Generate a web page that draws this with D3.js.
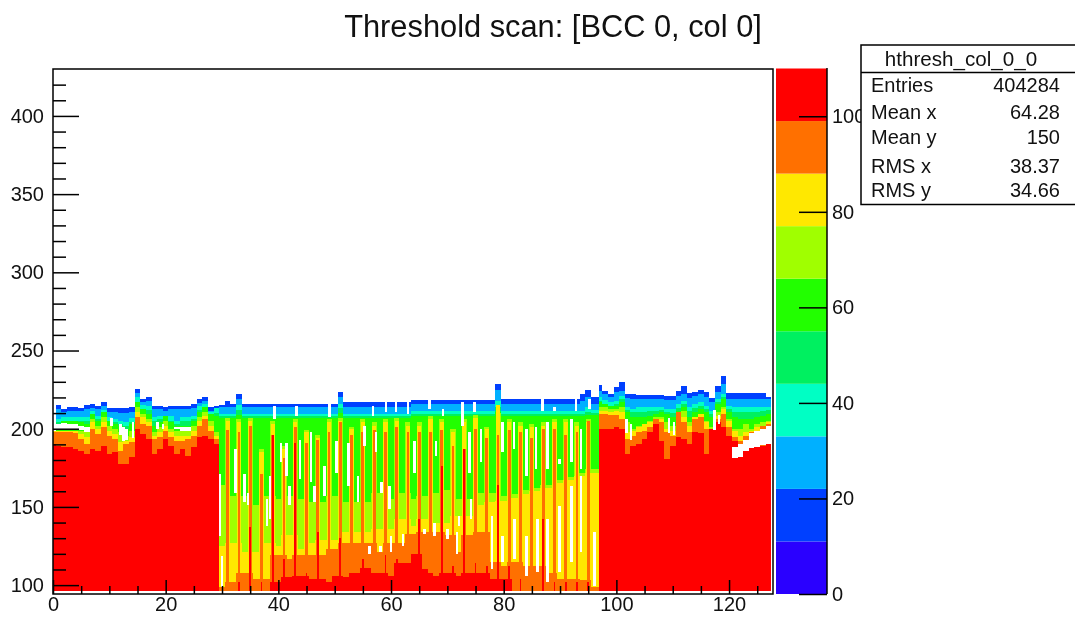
<!DOCTYPE html>
<html>
<head>
<meta charset="utf-8">
<script src="https://d3js.org/d3.v7.min.js"></script>
<style>
    html, body { margin: 0; padding: 0; background: #fff; overflow: hidden; }
    text { font-family: "Liberation Sans", Arial, sans-serif; fill: #111; }
</style>
</head>
<body>
<svg id="viz" width="1075" height="618"></svg>
<script>
// upper edge (y value) of each colour band, one entry per x column 0..127
var topBlue = [
    198,215.1,212.6,213.7,213.7,213.2,215.1,215.8,214.7,216.9,
    213.2,213.2,213.2,213.2,213.7,225.4,219,220.1,214.7,214.7,
    213.7,214.7,214.7,214.7,214.7,215.8,219,220.1,213.7,214.7,
    215,217.5,216,222.5,216,216,216,216,216,216,
    216,216,216,216,216,216,216,216,216,216,
    216,223.5,217,217,217,217,217,217,217,217,
    217,217,217,217,218.5,218.5,218.5,218.5,218.5,218.5,
    218.5,218.5,218.5,218.5,218.5,218.5,218.5,218.5,218.5,228.5,
    219,219,219,219,219,219,219,219,219,219,
    219,219,219,219,222,225,220,227.9,224.3,222.2,
    226.4,229.6,222.2,222.2,221.8,221.8,221.8,221.8,221.8,221.1,
    221.1,224.3,227.5,222.8,223.2,224.9,223.2,219.4,227.5,233.9,
    222.8,222.8,222.8,222.8,222.8,222.8,222.8,220];
var topSky = [
    198,212.6,210.5,211.5,211.5,211.1,212.6,213.2,212.6,214.3,
    210.5,210.5,210,210,210.5,222.8,216.9,217.9,212.6,212.6,
    211.1,212.6,212.6,212.6,212.6,213.2,216.4,217.9,211.1,213.2,
    213.6,213.6,213.6,219,213.6,213.6,213.6,213.6,213.6,213.6,
    213.6,213.6,213.6,213.6,213.6,213.6,213.6,213.6,213.6,213.6,
    213.6,220,213.6,213.6,213.6,213.6,213.6,213.6,213.6,213.6,
    213.6,213.6,213.6,213.6,215.8,215.8,215.8,215.8,215.8,215.8,
    215.8,215.8,215.8,215.8,215.8,215.8,215.8,215.8,215.8,225,
    215.8,215.8,215.8,215.8,215.8,215.8,215.8,215.8,215.8,215.8,
    215.8,215.8,215.8,215.8,218,220,216,224.3,222.2,220.1,
    223.2,224.3,219.4,219,219,219,219,219,219,218.6,
    218.6,221.1,222.2,219.4,220.7,222.2,220.1,216.9,223.2,228.6,
    219,219,219,219,219,219,219,219];
var topTeal = [
    198,206.2,207.3,207.3,207.3,207.3,207.3,211.5,208.3,212.2,
    207.3,206.2,205.1,204,206.6,220.1,215.1,214.7,207.3,208.3,
    208.3,207.9,205.1,207.3,207.3,208.3,214.3,215.8,210.5,213.2,
    209.4,209.4,209.4,215,209.4,209.4,209.4,209.4,209.4,209.4,
    209.4,209.4,209.4,209.4,209.4,209.4,209.4,209.4,209.4,209.4,
    209.4,216,209.4,209.4,209.4,209.4,209.4,209.4,209.4,209.4,
    209.4,209.4,209.4,209.4,211.5,211.5,211.5,211.5,211.5,211.5,
    211.5,211.5,211.5,211.5,211.5,211.5,211.5,211.5,211.5,218,
    211.5,211.5,211.5,211.5,211.5,211.5,211.5,211.5,211.5,211.5,
    211.5,211.5,211.5,211.5,211.5,214,212,220.1,218.6,216.9,
    217.9,221.1,213.7,212.6,213.7,213.7,213.7,213.7,213.7,212.6,
    212.6,215.8,217.9,213.7,215.8,216.9,214.7,211.5,219,222.2,
    214.7,213.7,213.7,213.7,213.7,213.7,213.7,213.7];
var topSpring = [
    198,204,205,205,205,205,205,209,206,210,
    205,204,203,202,204,217,212,212,205,206,
    206,205,203,205,205,206,212,213,208,210,
    207.9,207.9,207.9,212,207.9,207.9,207.9,207.9,207.9,207.9,
    207.9,207.9,207.9,207.9,207.9,207.9,207.9,207.9,207.9,207.9,
    207.9,213,207.9,207.9,207.9,207.9,207.9,207.9,207.9,207.9,
    207.9,207.9,207.9,207.9,209.4,209.4,209.4,209.4,209.4,209.4,
    209.4,209.4,209.4,209.4,209.4,209.4,209.4,209.4,209.4,214,
    209.4,209.4,209.4,209.4,209.4,209.4,209.4,209.4,209.4,209.4,
    209.4,209.4,209.4,209.4,209.4,211,210,218,216,214.5,
    215.5,219,212,210.5,211,211,211.5,211.5,212,210.5,
    210,213.5,215.5,211.5,213,214.5,212.5,209.5,217,220.5,
    212.5,211,210.5,210.5,210.5,211,211.5,212];
var topGreen = [
    198.7,201.9,205.1,205.1,205.1,204,203,209.4,205.1,210.5,
    205.1,203,201.9,199.8,203,216.9,212.6,209.4,201.9,204,
    208.3,204,201.9,201.9,201.9,205.1,210.5,213.7,209.4,208,
    206.8,206.8,206.8,209,206.8,206.8,206.8,206.8,206.8,206.8,
    206.8,206.8,206.8,206.8,206.8,206.8,206.8,206.8,206.8,206.8,
    206.8,210,206.8,206.8,206.8,206.8,206.8,206.8,206.8,206.8,
    206.8,206.8,206.8,206.8,207.9,207.9,207.9,207.9,207.9,207.9,
    207.9,207.9,207.9,207.9,207.9,207.9,207.9,207.9,207.9,211,
    207.9,207.9,207.9,207.9,207.9,207.9,207.9,207.9,207.9,207.9,
    207.9,207.9,207.9,207.9,207.9,209,208.5,216.9,215.8,214.7,
    214.7,216.9,210.5,207.3,207.3,207.3,208.3,209.4,210.5,209.4,
    207.3,211.5,213.7,207.3,210.5,212.6,210.5,207.3,215.8,219,
    210.5,207.3,206.2,206.2,206.2,207.3,208.3,209.4];
var topLime = [
    198.7,198.7,198.7,198.7,198.7,198.7,197.7,206.2,201.9,207.3,
    201.9,199.8,197.7,195.5,198.7,213.7,209.4,206.2,197.7,200.9,
    205.1,199.8,198.7,198.7,198.7,201.9,207.3,210.5,205.1,197.7,
    164,207,157,206,157,207,151,187,157,205,
    155,189,157,206,155,199,153,196,153,206,
    157,207,153,201,153,206,153,204,159,206,
    155,207,159,204,155,204,157,208,159,206,
    161,200,155,206,155,209,159,201,159,210,
    157,206,158,204,161,203,162,204,164,206,
    167,206,169,204,172,206,174,213.7,213.7,212.6,
    212.6,213.7,204,199.8,201.9,203,205.1,207.3,207.3,204,
    201.9,208.3,211.5,204,207.3,209.4,205.1,200.9,210.5,213.7,
    206.2,199.8,199.8,203,199.8,203,204,205.1];
var topYellow = [
    198.7,198.7,198.7,198.7,198.7,196.6,194.5,204,199.8,204,
    198.7,196.6,191.3,192.3,194.5,210.5,207.3,204,195.5,197.7,
    201.9,197.7,195.5,195.5,195.5,198.7,205.1,208.3,201.9,195.5,
    125,205,127,204,121,205,121,185,127,203,
    125,187,132,204,123,198,127,194,129,204,
    129,205,134,200,134,204,134,202,136,204,
    136,205,142,202,138,202,142,206,140,204,
    140,198,144,204,144,207,151,200,153,215,
    154,204,156,202,158,201,160,202,162,204,
    165,204,167,202,170,204,172,211.5,211.5,210.9,
    211.5,210.5,197.7,198.7,200.9,203,204,206.2,206.2,199.8,
    198.7,210.5,207.3,201.9,207.3,209.4,204,198.7,208.3,212.6,
    205.1,198.7,195.5,197.7,198.7,200.9,201.9,204];
var topOrange = [
    197.7,198.1,197.7,197.7,197.2,193.4,190.2,199.8,196.6,200.9,
    195.5,193.4,185.9,190.2,191.3,207.3,203,201.9,193.4,194.5,
    198.7,194.5,192.3,192.3,193.4,195.5,201.9,206.2,198.7,193.4,
    99,199,102,198,108,202,104,171,104,196,
    119,181,117,201,119,191,119,193,119,198,
    123,204,127,196,127,198,127,199,121,198,
    127,201,127,198,133,198,134,198,134,199,
    132,189,121,187,132,200,134,194,115,196,
    112,199,115,198,112,194,112,200,108,200,
    104,196,104,198,103,205,99,209.4,209.4,208.8,
    208.8,206.2,193.4,195.5,197.7,198.7,200.9,206.2,204,197.7,
    195.5,210.5,204,197.7,206.2,207.3,199.8,195.5,206.2,209.4,
    200.9,194.5,192.3,195.5,197.7,198.7,201.9,203];
var topRed = [
    190.2,189.1,188.1,188.1,187,185.9,183.8,187,185.9,189.1,
    183.8,184.9,177.4,177.4,181.7,199.8,196.6,193.4,183.8,187,
    193.4,189.1,183.8,187,182.8,188.1,194.5,195.5,193.4,190.2,
    96,96,96,102,96,137,96,102,96,196,
    102,117,105,191,106,108,104,134,104,102,
    106,130,105,108,108,117,111,108,108,119,
    106,117,114,114,120,142,110,108,106,176,
    108,112,106,187,108,114,108,112,104,164,
    104,112,96,104,96,96,96,142,96,102,
    96,102,96,102,96,102,96,199.8,199.8,199.8,
    200.9,199.8,183.8,189.1,190.2,193.4,197.7,203,192.3,180.6,
    189.1,194.5,193.4,190.2,197.7,197.2,183.8,199.8,204,200.9,
    195.5,192.3,184.9,187.4,187.4,188.1,189.1,190.2];

// empty bins, full column wide: [column, y top, y bottom]
var blankCells = [
    [1,203,199],[2,203.5,199],[3,203,199],[4,203,199],[5,202,199],[6,201,198],
    [22,201,199.5],[23,201,198.5],[24,201,198.5],
    [121,188,181],[122,190,182],[123,193,186],[124,197,187.5],[125,198.5,188.5],[126,200,189.5],[127,202,190.5]
];
// narrow white streaks next to the stripes: [x, y top, y bottom]
var streaks = [
    [10.4,207,202],[12,203,196],[12.5,201,192],[13,200,193],[14.2,204,194],[18.5,204,200],[19.5,203,200],
    [29.6,171,131.6],[30,118.8,99],[32.4,187,159],[34,171,153],[34.6,159,151],[38,155,138],[38.5,170,142],
    [40.5,191,178.5],[41.4,191,170],[42,163.6,151],[43.8,193,168],[45.8,197.7,165.7],[46.4,163.6,153],
    [48.2,176,157],[50.3,192,172],[52.4,191,163.6],[54.1,170,153],[55.3,202,189],[56.2,125,120],[57.3,197.7,185],
    [58.1,125,121],[58.3,165.7,159],[59.7,163.6,148.6],[60,131.6,121],[62.1,132.7,125],
    [64.2,192.3,172],[65.9,135.9,132.7],[68,192.3,182.7],[67.7,140,131.6],[70,135.9,129.5],[71.7,133.7,120],
    [72.1,144.4,138],[73.9,197.7,172],[74.2,155,142.3],[76,199.8,178.5],[77.9,144.4,110.3],[79.8,204,184.9],
    [79.8,131.6,114.6],[81.8,204,187],[81.9,142.3,116.7],[84,199.8,170],[84,131.6,106],[85.7,200.9,174.2],
    [86,142.3,108.2],[87.8,204,174.2],[87.8,142.3,101.8],[89.9,180.6,177.4],[89.9,150.8,108.2],[92,206.2,178.5],
    [92,163.6,114.6],[93.7,199.8,174.2],[93.7,170,121],[96.1,133.7,99.6],
    [39.35,214.7,206.2],[43.2,214.7,208.3],[49.1,215.8,207.3],[56.8,214.7,208.3],[59.1,216.8,210.5],[60.9,217.9,210.5],
    [63,217.9,209.4],[66.8,219,212.6],[69.2,212.6,208.3],[72.7,216.8,201.9],[74.8,216.8,210.5],[86.9,219,211.5],
    [89,213.6,211.5],[92.8,219,211.5],[95.2,219,212.6],
    [101.8,206,197],[102.6,203,193],[109.3,207,197],[110.2,204,196],[117.4,212,199],[118.2,209,203]
];

var bandColors = ["#0040ff", "#00b0ff", "#00ffc4", "#00f060", "#22ff00", "#a0ff00", "#ffe800", "#ff7000", "#ff0000"];
var bandTops = [topBlue, topSky, topTeal, topSpring, topGreen, topLime, topYellow, topOrange, topRed];
// how wide a band is on the thin stripe columns, in bins
var stripeWidths = [1, 1, 1, 1, 1, 0.9, 0.75, 0.5, 0.3];

var legendColors = ["#2a00ff", "#0040ff", "#00b0ff", "#00ffc4", "#00f060", "#22ff00", "#a0ff00", "#ffe800", "#ff7000", "#ff0000"];
var legendEdges = [0, 11, 22, 33, 44, 55, 66, 77, 88, 99, 110];

var xMajor = [0, 20, 40, 60, 80, 100, 120];
var xMinor = [5, 10, 15, 25, 30, 35, 45, 50, 55, 65, 70, 75, 85, 90, 95, 105, 110, 115, 125];
var yMajor = [100, 150, 200, 250, 300, 350, 400];
var yMinor = [110, 120, 130, 140, 160, 170, 180, 190, 210, 220, 230, 240, 260, 270, 280, 290,
    310, 320, 330, 340, 360, 370, 380, 390, 410, 420];
var zMajor = [0, 20, 40, 60, 80, 100];

var statNames = ["Entries", "Mean x", "Mean y", "RMS x", "RMS y"];
var statValues = ["404284", "64.28", "150", "38.37", "34.66"];
var statRows = [92, 119, 144, 173, 197];

var svg = d3.select("#viz").style("filter", "blur(0.45px)");

var x = d3.scaleLinear().domain([0, 127.8]).range([53, 773]);
var y = d3.scaleLinear().domain([94, 430]).range([594.5, 69]);
var z = d3.scaleLinear().domain([0, 110]).range([594, 68.5]);

var yFloor = 96.5;
var xEnd = 127.8;
var blockStart = 96.9;

var plot = svg.append("g").attr("shape-rendering", "crispEdges");

function cell(x0, x1, top, color) {
    plot.append("rect")
        .attr("x", x(x0))
        .attr("y", y(top))
        .attr("width", x(x1) - x(x0))
        .attr("height", y(yFloor) - y(top))
        .attr("fill", color);
}

// painted band by band, the later band covers the lower part of the earlier one
bandTops.forEach(function (tops, b) {
    d3.range(128).forEach(function (col) {
        if (tops[col] <= yFloor) return;
        var x0 = Math.max(0, col - 0.5);
        var x1 = Math.min(xEnd, col + 0.5);
        if (col === 96) x1 = blockStart;
        if (col === 97) x0 = blockStart;
        var striped = col > 30 && col < 96 && col % 2 === 1;
        if (!striped) {
            cell(x0, x1, tops[col], bandColors[b]);
            return;
        }
        // thin stripe only where it pokes above its neighbours
        var w = stripeWidths[b];
        cell(col - w / 2, col + w / 2, tops[col], bandColors[b]);
        var level = Math.min(tops[col], Math.max(tops[col - 1], tops[col + 1]));
        if (level > yFloor) cell(x0, x1, level, bandColors[b]);
    });
});

plot.selectAll(".blank")
    .data(blankCells)
    .enter().append("rect")
    .attr("class", "blank")
    .attr("x", function (d) { return x(d[0] - 0.5); })
    .attr("y", function (d) { return y(d[1]); })
    .attr("width", x(1) - x(0))
    .attr("height", function (d) { return y(d[2]) - y(d[1]); })
    .attr("fill", "#fff");

plot.selectAll(".streak")
    .data(streaks)
    .enter().append("rect")
    .attr("class", "streak")
    .attr("x", function (d) { return x(d[0] - 0.22); })
    .attr("y", function (d) { return y(d[1]); })
    .attr("width", x(0.45) - x(0))
    .attr("height", function (d) { return y(d[2]) - y(d[1]); })
    .attr("fill", "#fff");

// palette
legendColors.forEach(function (c, i) {
    svg.append("rect")
        .attr("x", 776)
        .attr("y", z(legendEdges[i + 1]))
        .attr("width", 51)
        .attr("height", z(legendEdges[i]) - z(legendEdges[i + 1]))
        .attr("fill", c);
});

// frame
svg.append("rect")
    .attr("x", 53).attr("y", 69)
    .attr("width", 720).attr("height", 525)
    .attr("fill", "none").attr("stroke", "#000").attr("stroke-width", 1.5);

function styleAxis(g) {
    g.select(".domain").remove();
    g.selectAll("line").attr("stroke", "#000").attr("stroke-width", 1.5);
    g.selectAll("text").style("font-size", "20px").attr("fill", "#111");
}

svg.append("g").attr("transform", "translate(53,0)")
    .call(d3.axisLeft(y).tickValues(yMajor).tickSize(-26).tickPadding(9).tickFormat(d3.format("d")))
    .call(styleAxis);
svg.append("g").attr("transform", "translate(53,0)")
    .call(d3.axisLeft(y).tickValues(yMinor).tickSize(-13).tickFormat(""))
    .call(styleAxis);
svg.append("g").attr("transform", "translate(0,594)")
    .call(d3.axisBottom(x).tickValues(xMajor).tickSize(-14).tickPadding(3).tickFormat(d3.format("d")))
    .call(styleAxis);
svg.append("g").attr("transform", "translate(0,594)")
    .call(d3.axisBottom(x).tickValues(xMinor).tickSize(-8).tickFormat(""))
    .call(styleAxis);

svg.append("line")
    .attr("x1", 827).attr("x2", 827).attr("y1", 68).attr("y2", 594)
    .attr("stroke", "#000").attr("stroke-width", 1.5);
svg.append("g").attr("transform", "translate(827,0)")
    .call(d3.axisRight(z).tickValues(zMajor).tickSize(-28).tickPadding(5).tickFormat(d3.format("d")))
    .call(styleAxis);

// title
svg.append("text")
    .attr("x", 553).attr("y", 37)
    .attr("text-anchor", "middle")
    .style("font-size", "30.8px")
    .text("Threshold scan: [BCC 0, col 0]");

// stats box
svg.append("rect")
    .attr("x", 861).attr("y", 45)
    .attr("width", 230).attr("height", 159.5)
    .attr("fill", "#fff").attr("stroke", "#000").attr("stroke-width", 1.5);
svg.append("line")
    .attr("x1", 861).attr("x2", 1075).attr("y1", 72.5).attr("y2", 72.5)
    .attr("stroke", "#000").attr("stroke-width", 1.5);
svg.append("text")
    .attr("x", 961).attr("y", 66)
    .attr("text-anchor", "middle")
    .style("font-size", "20.6px")
    .text("hthresh_col_0_0");

statNames.forEach(function (name, i) {
    svg.append("text")
        .attr("x", 871).attr("y", statRows[i])
        .style("font-size", "20px")
        .text(name);
    svg.append("text")
        .attr("x", 1060).attr("y", statRows[i])
        .attr("text-anchor", "end")
        .style("font-size", "20px")
        .text(statValues[i]);
});
</script>
</body>
</html>
